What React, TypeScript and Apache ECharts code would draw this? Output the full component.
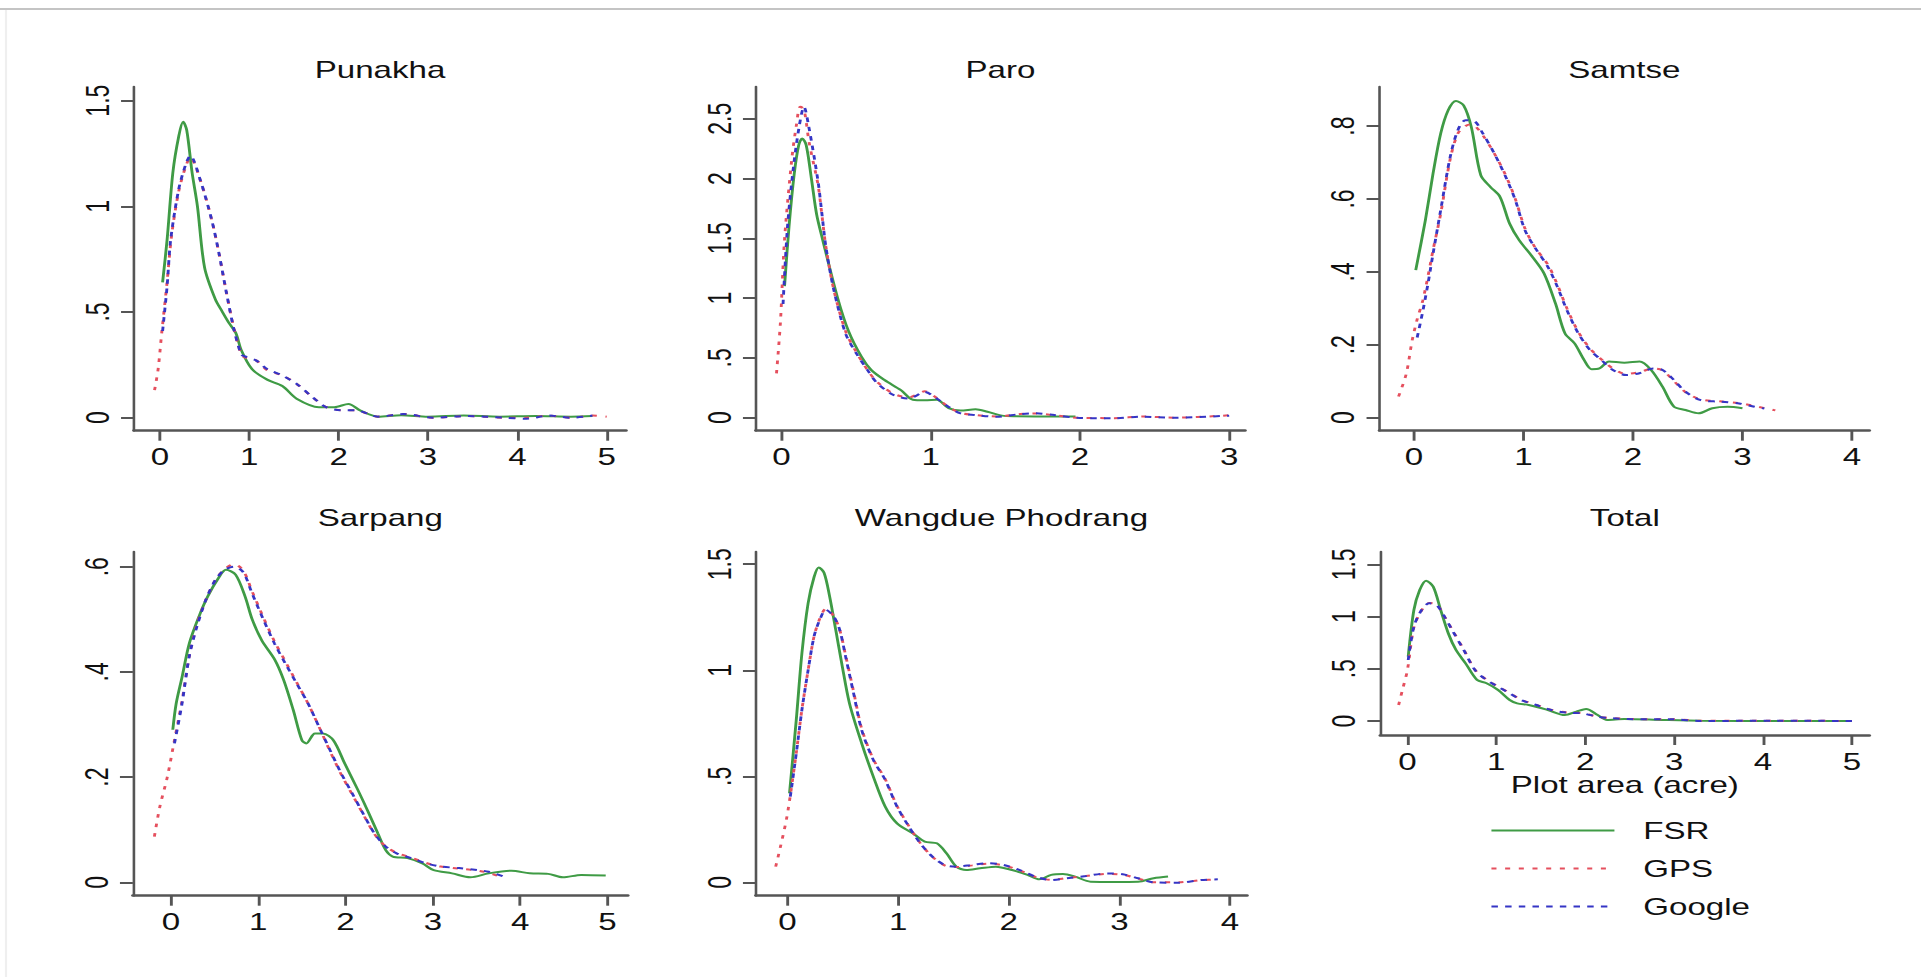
import React, { useEffect, useRef } from "react";
import * as echarts from "echarts";

// ---------------- DATA ----------------
const xTicks5 = [0, 1, 2, 3, 4, 5];
const xTicks4 = [0, 1, 2, 3, 4];
const xTicks3 = [0, 1, 2, 3];
const yTicks15 = [0, 0.5, 1, 1.5];
const yTicks25 = [0, 0.5, 1, 1.5, 2, 2.5];
const yTicks08 = [0, 0.2, 0.4, 0.6, 0.8];
const yTicks06 = [0, 0.2, 0.4, 0.6];

const titles = ["Punakha", "Paro", "Samtse", "Sarpang", "Wangdue Phodrang", "Total"];
const seriesNames = ["FSR", "GPS", "Google"];
const xAxisTitle = "Plot area (acre)";

const punakhaFSR = [[0.03,0.64],[0.08,0.84],[0.145,1.16],[0.21,1.33],[0.26,1.40],[0.30,1.36],[0.36,1.16],[0.42,1.0],[0.50,0.71],[0.62,0.56],[0.70,0.5],[0.77,0.45],[0.85,0.40],[0.91,0.32],[1.03,0.23],[1.2,0.18],[1.37,0.15],[1.53,0.09],[1.78,0.05],[1.95,0.05],[2.11,0.065],[2.24,0.035],[2.44,0.005],[2.7,0.012],[3.0,0.005],[3.4,0.01],[3.8,0.005],[4.2,0.008],[4.6,0.005],[4.84,0.008]];
const punakhaGPS = [[-0.06,0.13],[-0.02,0.23],[0.02,0.40],[0.08,0.64],[0.13,0.86],[0.21,1.07],[0.29,1.19],[0.34,1.23],[0.455,1.12],[0.58,0.935],[0.66,0.78],[0.745,0.59],[0.83,0.42],[0.91,0.30],[0.95,0.285],[1.08,0.27],[1.2,0.225],[1.37,0.20],[1.53,0.16],[1.7,0.10],[1.86,0.05],[2.03,0.035],[2.19,0.035],[2.44,0.005],[2.73,0.017],[3.06,0.0],[3.44,0.008],[3.85,0.0],[4.1,0.0],[4.35,0.01],[4.6,0.0],[4.84,0.01],[5.0,0.005]];
const punakhaGoogle = [[0.03,0.41],[0.08,0.62],[0.12,0.84],[0.21,1.08],[0.29,1.20],[0.34,1.24],[0.455,1.12],[0.58,0.935],[0.66,0.78],[0.745,0.59],[0.83,0.415],[0.91,0.30],[0.95,0.29],[1.08,0.27],[1.2,0.23],[1.37,0.20],[1.53,0.16],[1.7,0.10],[1.86,0.05],[2.03,0.035],[2.19,0.035],[2.44,0.005],[2.73,0.017],[3.06,0.0],[3.44,0.008],[3.85,0.0],[4.1,-0.005],[4.35,0.01],[4.6,0.0],[4.84,0.01]];

const paroFSR = [[0.02,1.1],[0.05,1.6],[0.085,2.04],[0.115,2.28],[0.138,2.335],[0.165,2.28],[0.2,2.0],[0.235,1.7],[0.275,1.49],[0.376,1.0],[0.45,0.72],[0.535,0.51],[0.60,0.40],[0.69,0.315],[0.80,0.23],[0.88,0.15],[0.96,0.145],[1.04,0.15],[1.12,0.08],[1.20,0.06],[1.30,0.07],[1.38,0.05],[1.49,0.015],[1.70,0.01],[1.97,0.01]];
const paroGPS = [[-0.034,0.37],[-0.008,0.79],[0.02,1.49],[0.07,2.18],[0.1,2.45],[0.125,2.60],[0.15,2.58],[0.185,2.3],[0.244,1.95],[0.27,1.7],[0.297,1.43],[0.35,1.07],[0.43,0.72],[0.5,0.55],[0.575,0.40],[0.64,0.30],[0.75,0.2],[0.853,0.17],[0.96,0.22],[1.04,0.165],[1.12,0.09],[1.2,0.04],[1.3,0.022],[1.44,0.01],[1.6,0.03],[1.7,0.035],[1.83,0.02],[1.97,0.0],[2.23,-0.004],[2.42,0.01],[2.63,0.0],[3.0,0.02]];
const paroGoogle = [[0.01,0.95],[0.04,1.6],[0.08,2.1],[0.12,2.45],[0.15,2.6],[0.18,2.45],[0.244,1.98],[0.27,1.71],[0.297,1.43],[0.35,1.07],[0.43,0.70],[0.5,0.54],[0.575,0.40],[0.64,0.29],[0.75,0.19],[0.853,0.16],[0.96,0.215],[1.04,0.16],[1.12,0.09],[1.2,0.036],[1.3,0.022],[1.44,0.008],[1.6,0.03],[1.7,0.036],[1.83,0.022],[1.97,0.0],[2.23,-0.005],[2.42,0.008],[2.63,0.0],[3.0,0.017]];

const samtseFSR = [[0.017,0.405],[0.105,0.542],[0.175,0.67],[0.245,0.78],[0.314,0.844],[0.384,0.869],[0.454,0.857],[0.524,0.798],[0.611,0.665],[0.699,0.633],[0.786,0.606],[0.873,0.533],[0.961,0.487],[1.083,0.441],[1.188,0.396],[1.293,0.313],[1.38,0.231],[1.467,0.204],[1.555,0.158],[1.624,0.133],[1.694,0.135],[1.782,0.154],[1.921,0.151],[2.06,0.154],[2.166,0.131],[2.27,0.085],[2.375,0.03],[2.48,0.021],[2.6,0.012],[2.725,0.026],[2.865,0.03],[3.0,0.026]];
const samtseGPS = [[-0.14,0.058],[-0.07,0.12],[-0.017,0.21],[0.03,0.27],[0.08,0.32],[0.13,0.39],[0.175,0.46],[0.245,0.56],[0.332,0.71],[0.402,0.78],[0.472,0.80],[0.52,0.805],[0.559,0.80],[0.629,0.775],[0.734,0.725],[0.838,0.665],[0.926,0.60],[1.013,0.52],[1.1,0.47],[1.223,0.42],[1.31,0.365],[1.397,0.30],[1.502,0.235],[1.607,0.19],[1.712,0.16],[1.817,0.135],[1.939,0.12],[2.06,0.125],[2.184,0.135],[2.27,0.13],[2.375,0.10],[2.48,0.07],[2.62,0.05],[2.795,0.045],[2.97,0.04],[3.11,0.032],[3.3,0.02]];
const samtseGoogle = [[0.03,0.22],[0.08,0.29],[0.13,0.37],[0.175,0.45],[0.245,0.57],[0.332,0.716],[0.402,0.789],[0.472,0.816],[0.559,0.812],[0.629,0.78],[0.734,0.725],[0.838,0.661],[0.926,0.597],[1.013,0.515],[1.1,0.469],[1.223,0.414],[1.31,0.359],[1.397,0.295],[1.502,0.231],[1.607,0.186],[1.712,0.158],[1.817,0.131],[1.939,0.117],[2.06,0.122],[2.184,0.135],[2.27,0.131],[2.375,0.103],[2.48,0.071],[2.62,0.048],[2.795,0.044],[2.97,0.039],[3.11,0.03],[3.2,0.025]];

const sarpangFSR = [[0.021,0.29],[0.06,0.34],[0.127,0.39],[0.21,0.454],[0.32,0.505],[0.42,0.543],[0.55,0.58],[0.63,0.594],[0.74,0.585],[0.85,0.543],[0.93,0.50],[1.04,0.46],[1.19,0.423],[1.29,0.385],[1.40,0.328],[1.50,0.27],[1.55,0.264],[1.65,0.283],[1.74,0.283],[1.86,0.27],[1.99,0.226],[2.14,0.176],[2.267,0.131],[2.37,0.093],[2.46,0.061],[2.54,0.049],[2.71,0.046],[2.88,0.036],[3.01,0.023],[3.22,0.017],[3.43,0.0095],[3.64,0.017],[3.9,0.022],[4.11,0.017],[4.32,0.016],[4.49,0.0095],[4.7,0.014],[4.98,0.013]];
const sarpangGPS = [[-0.19,0.087],[-0.127,0.144],[-0.042,0.2],[0.04,0.27],[0.127,0.345],[0.21,0.43],[0.297,0.49],[0.40,0.537],[0.51,0.575],[0.614,0.595],[0.72,0.605],[0.826,0.593],[0.93,0.553],[1.06,0.503],[1.186,0.458],[1.31,0.42],[1.44,0.38],[1.57,0.34],[1.695,0.296],[1.82,0.25],[1.95,0.205],[2.076,0.167],[2.2,0.13],[2.33,0.092],[2.46,0.068],[2.585,0.056],[2.75,0.047],[2.92,0.037],[3.09,0.03],[3.3,0.026],[3.52,0.022],[3.64,0.018],[3.81,0.008]];
const sarpangGoogle = [[0.04,0.264],[0.127,0.34],[0.21,0.43],[0.297,0.486],[0.40,0.537],[0.51,0.575],[0.614,0.594],[0.72,0.6],[0.826,0.59],[0.93,0.549],[1.06,0.499],[1.186,0.454],[1.31,0.416],[1.44,0.378],[1.57,0.34],[1.695,0.296],[1.82,0.252],[1.95,0.207],[2.076,0.169],[2.2,0.131],[2.33,0.093],[2.46,0.068],[2.585,0.055],[2.75,0.046],[2.92,0.036],[3.09,0.03],[3.3,0.027],[3.52,0.023],[3.64,0.02],[3.81,0.011]];

const wangdueFSR = [[0.018,0.42],[0.079,0.766],[0.13,1.08],[0.186,1.316],[0.24,1.44],[0.282,1.485],[0.33,1.46],[0.38,1.35],[0.436,1.19],[0.49,1.033],[0.56,0.844],[0.67,0.656],[0.776,0.498],[0.883,0.357],[0.99,0.278],[1.133,0.231],[1.24,0.192],[1.35,0.184],[1.437,0.137],[1.526,0.074],[1.616,0.058],[1.74,0.066],[1.884,0.074],[2.03,0.058],[2.17,0.035],[2.277,0.014],[2.384,0.035],[2.49,0.039],[2.6,0.027],[2.74,0.003],[2.96,0.002],[3.17,0.003],[3.31,0.019],[3.44,0.027]];
const wangdueGPS = [[-0.107,0.074],[-0.064,0.168],[-0.011,0.294],[0.025,0.41],[0.079,0.61],[0.13,0.815],[0.186,1.0],[0.24,1.16],[0.293,1.245],[0.347,1.29],[0.418,1.255],[0.472,1.19],[0.525,1.07],[0.597,0.9],[0.67,0.725],[0.776,0.58],[0.883,0.487],[0.99,0.36],[1.097,0.265],[1.2,0.185],[1.31,0.12],[1.42,0.08],[1.526,0.072],[1.67,0.08],[1.81,0.088],[1.955,0.08],[2.1,0.056],[2.24,0.026],[2.384,0.012],[2.527,0.02],[2.7,0.03],[2.885,0.04],[3.03,0.036],[3.17,0.018],[3.31,0.0],[3.53,0.0],[3.74,0.01],[3.89,0.014]];
const wangdueGoogle = [[0.025,0.404],[0.079,0.608],[0.13,0.813],[0.186,1.0],[0.24,1.16],[0.293,1.24],[0.347,1.285],[0.418,1.253],[0.472,1.19],[0.525,1.065],[0.597,0.892],[0.67,0.719],[0.776,0.577],[0.883,0.483],[0.99,0.357],[1.097,0.263],[1.2,0.184],[1.31,0.121],[1.42,0.082],[1.526,0.074],[1.67,0.082],[1.81,0.09],[1.955,0.082],[2.1,0.058],[2.24,0.027],[2.384,0.011],[2.527,0.019],[2.7,0.03],[2.885,0.042],[3.03,0.038],[3.17,0.019],[3.31,0.0],[3.53,-0.002],[3.74,0.011],[3.89,0.014]];

const totalFSR = [[0.009,0.616],[0.073,1.063],[0.138,1.254],[0.21,1.344],[0.29,1.286],[0.374,1.063],[0.46,0.839],[0.546,0.68],[0.654,0.552],[0.783,0.393],[0.89,0.361],[1.02,0.297],[1.15,0.201],[1.235,0.169],[1.364,0.153],[1.58,0.105],[1.77,0.057],[1.9,0.089],[2.01,0.115],[2.14,0.057],[2.246,0.01],[2.44,0.019],[2.87,0.01],[3.3,0.003],[4.16,0.0],[5.0,0.0]];
const totalGPS = [[-0.099,0.153],[-0.056,0.297],[0.0,0.488],[0.073,0.9],[0.16,1.06],[0.245,1.13],[0.33,1.115],[0.417,1.0],[0.503,0.875],[0.633,0.685],[0.76,0.49],[0.89,0.395],[1.02,0.33],[1.15,0.267],[1.28,0.203],[1.45,0.155],[1.62,0.107],[1.79,0.082],[1.97,0.075],[2.14,0.042],[2.31,0.027],[2.65,0.017],[3.0,0.017],[3.3,0.002],[4.16,0.003],[5.0,0.0]];
const totalGoogle = [[0.009,0.584],[0.073,0.903],[0.16,1.063],[0.245,1.127],[0.33,1.11],[0.417,0.999],[0.503,0.871],[0.633,0.68],[0.76,0.488],[0.89,0.393],[1.02,0.329],[1.15,0.265],[1.28,0.201],[1.45,0.153],[1.62,0.105],[1.79,0.08],[1.97,0.073],[2.14,0.041],[2.31,0.026],[2.65,0.016],[3.0,0.016],[3.3,0.0],[4.16,0.003],[5.0,0.0]];

// ---------------- LAYOUT ----------------
const S = 1.44; // the reference is stretched horizontally
const W0 = 1921 / S;
const H0 = 977;
const FONT = "'Liberation Sans', Arial, Helvetica, sans-serif";
const COLORS = ["#3f9b45", "#e5505e", "#3535c5"];
const DASHES: any[] = ["solid", [3.5, 6], [4.5, 5]];

// pixel boxes of the six plot regions in the reference (x in reference px)
const panels = [
  { data: [punakhaFSR, punakhaGPS, punakhaGoogle], L: 134, R: 626, T: 86.7, B: 430.7, xmin: -0.29, xmax: 5.216, ymin: -0.0615, ymax: 1.566, xt: xTicks5, yt: yTicks15 },
  { data: [paroFSR, paroGPS, paroGoogle], L: 755.9, R: 1245, T: 86.7, B: 430.7, xmin: -0.172, xmax: 3.106, ymin: -0.109, ymax: 2.768, xt: xTicks3, yt: yTicks25 },
  { data: [samtseFSR, samtseGPS, samtseGoogle], L: 1379.5, R: 1869.3, T: 86.7, B: 430.7, xmin: -0.314, xmax: 4.158, ymin: -0.0357, ymax: 0.908, xt: xTicks4, yt: yTicks08 },
  { data: [sarpangFSR, sarpangGPS, sarpangGoogle], L: 132.9, R: 627.8, T: 551.7, B: 895.7, xmin: -0.436, xmax: 5.233, ymin: -0.0255, ymax: 0.6285, xt: xTicks5, yt: yTicks06 },
  { data: [wangdueFSR, wangdueGPS, wangdueGoogle], L: 755.9, R: 1247, T: 551.7, B: 895.7, xmin: -0.286, xmax: 4.154, ymin: -0.063, ymax: 1.559, xt: xTicks4, yt: yTicks15 },
  { data: [totalFSR, totalGPS, totalGoogle], L: 1380.3, R: 1869.3, T: 551.7, B: 735, xmin: -0.305, xmax: 5.195, ymin: -0.134, ymax: 1.621, xt: xTicks5, yt: yTicks15 },
];
const titleCenterY = [71, 71, 71, 519, 519, 519];

const fmtY = (v: number) => {
  const s = String(Math.round(v * 100) / 100);
  return s.startsWith("0.") ? s.slice(1) : s;
};

function buildOption() {
  const grid: any[] = [];
  const xAxis: any[] = [];
  const yAxis: any[] = [];
  const series: any[] = [];
  const title: any[] = [];
  const axisColor = "#555";
  const textColor = "#111";

  panels.forEach((p, i) => {
    grid.push({ left: p.L / S, top: p.T, width: (p.R - p.L) / S, height: p.B - p.T, containLabel: false });
    const isTotal = i === 5;
    xAxis.push({
      gridIndex: i,
      type: "value",
      min: p.xmin,
      max: p.xmax,
      axisLine: { show: true, onZero: false, lineStyle: { color: axisColor, width: 2.5 } },
      axisTick: { show: true, length: 10, lineStyle: { color: axisColor, width: 2 }, customValues: p.xt },
      axisLabel: { customValues: p.xt, margin: 15, fontSize: 23, color: textColor, fontFamily: FONT },
      splitLine: { show: false },
      name: isTotal ? xAxisTitle : "",
      nameLocation: "middle",
      nameGap: 36,
      nameTextStyle: { fontSize: 23, color: textColor, fontFamily: FONT },
    });
    yAxis.push({
      gridIndex: i,
      type: "value",
      min: p.ymin,
      max: p.ymax,
      axisLine: { show: true, onZero: false, lineStyle: { color: axisColor, width: 1.8 } },
      axisTick: { show: true, length: 9, lineStyle: { color: axisColor, width: 2 }, customValues: p.yt },
      axisLabel: { customValues: p.yt, rotate: 90, margin: 14, fontSize: 23, color: textColor, fontFamily: FONT, formatter: fmtY },
      splitLine: { show: false },
    });
    title.push({
      text: titles[i],
      left: (p.L + p.R) / 2 / S,
      top: titleCenterY[i] - 13,
      textAlign: "center",
      padding: 0,
      textStyle: { fontSize: 23, fontWeight: "normal", color: textColor, fontFamily: FONT },
    });
    p.data.forEach((d, k) => {
      series.push({
        type: "line",
        name: seriesNames[k],
        xAxisIndex: i,
        yAxisIndex: i,
        data: d,
        symbol: "none",
        showSymbol: false,
        smooth: 0.3,
        z: 2 + k,
        lineStyle: { color: COLORS[k], width: 2, type: DASHES[k] },
        itemStyle: { color: COLORS[k] },
      });
    });
  });

  return {
    animation: false,
    backgroundColor: "#ffffff",
    title,
    grid,
    xAxis,
    yAxis,
    series,
    legend: {
      data: seriesNames,
      orient: "vertical",
      left: 1490 / S,
      top: 819,
      itemWidth: 123 / S,
      itemHeight: 14,
      itemGap: 15,
      padding: 0,
      itemStyle: { opacity: 0 },
      textStyle: { fontSize: 23, color: textColor, fontFamily: FONT, padding: [0, 0, 0, 15] },
    },
    graphic: [
      { type: "line", shape: { x1: 0, y1: 9, x2: W0, y2: 9 }, style: { stroke: "#c4c4c4", lineWidth: 2 }, silent: true },
      { type: "line", shape: { x1: 6 / S, y1: 10, x2: 6 / S, y2: H0 }, style: { stroke: "#efefef", lineWidth: 1.5 }, silent: true },
    ],
  };
}

export default function App() {
  const ref = useRef<HTMLDivElement>(null);
  useEffect(() => {
    if (!ref.current) return;
    const chart = echarts.init(ref.current, null, { renderer: "svg" });
    chart.setOption(buildOption());
    return () => chart.dispose();
  }, []);
  return (
    <div
      ref={ref}
      style={{
        position: "absolute",
        left: 0,
        top: 0,
        width: W0,
        height: H0,
        transform: `scaleX(${S})`,
        transformOrigin: "0 0",
        background: "#fff",
      }}
    />
  );
}
